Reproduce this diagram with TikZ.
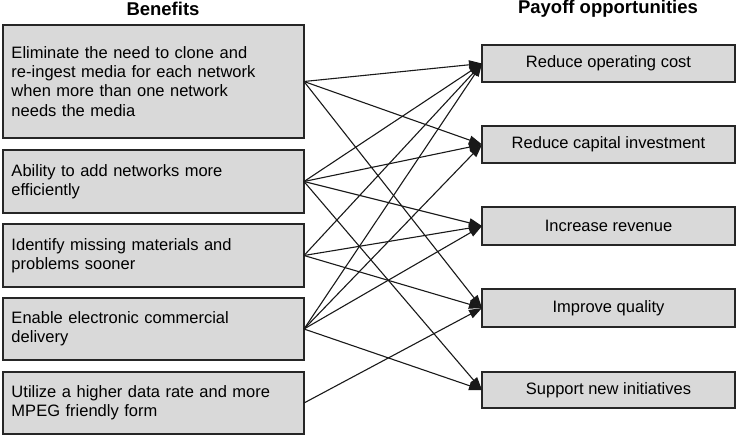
\documentclass[tikz,border=0pt]{standalone}
\usepackage{fontspec}
\setmainfont{Liberation Sans}
\usetikzlibrary{arrows.meta}
\begin{document}
\begin{tikzpicture}[x=1pt,y=1pt,
  box/.style={draw=black!85, line width=1.8pt, fill=black!15, inner sep=0pt, outer sep=0pt},
  lbox/.style={box, minimum width=301pt, text width=284pt, align=left,
    font=\fontsize{16.5}{19.2}\selectfont},
  rbox/.style={box, minimum width=253pt, align=center,
    font=\fontsize{16.5}{19.2}\selectfont},
  head/.style={font=\fontsize{18.5}{21}\selectfont\bfseries},
  link/.style={line width=1.1pt, draw=black!90, -{Triangle[length=13pt,width=9pt]}}
]
\useasboundingbox (0,0) rectangle (736,-435);
\node[head] (hb) at (163,-9) {Benefits};
\node[head] (hp) at (608,-9) {Payoff opportunities};

\node[lbox, minimum height=113pt] (b1) at (153.5,-81.5) {Eliminate the need to clone and\\re-ingest media for each network\\when more than one network\\needs the media};
\node[lbox, minimum height=63pt] (b2) at (153.5,-181.5) {Ability to add networks more\\efficiently};
\node[lbox, minimum height=63pt] (b3) at (153.5,-255.5) {Identify missing materials and\\problems sooner};
\node[lbox, minimum height=62pt] (b4) at (153.5,-329) {Enable electronic commercial\\delivery};
\node[lbox, minimum height=62pt] (b5) at (153.5,-403) {Utilize a higher data rate and more\\MPEG friendly form};

\node[rbox, minimum height=37pt] (r1) at (608.5,-63.5) {Reduce operating cost};
\node[rbox, minimum height=37pt] (r2) at (608.5,-144.5) {Reduce capital investment};
\node[rbox, minimum height=38pt] (r3) at (608.5,-226) {Increase revenue};
\node[rbox, minimum height=38pt] (r4) at (608.5,-308) {Improve quality};
\node[rbox, minimum height=36pt] (r5) at (608.5,-390) {Support new initiatives};

\foreach \s/\t in {b1/r1,b1/r2,b1/r4,b2/r1,b2/r2,b2/r3,b2/r5,b3/r1,b3/r3,b3/r4,b4/r1,b4/r2,b4/r3,b4/r5,b5/r4}
  \draw[link] (\s.east) -- (\t.west);
\end{tikzpicture}
\end{document}
